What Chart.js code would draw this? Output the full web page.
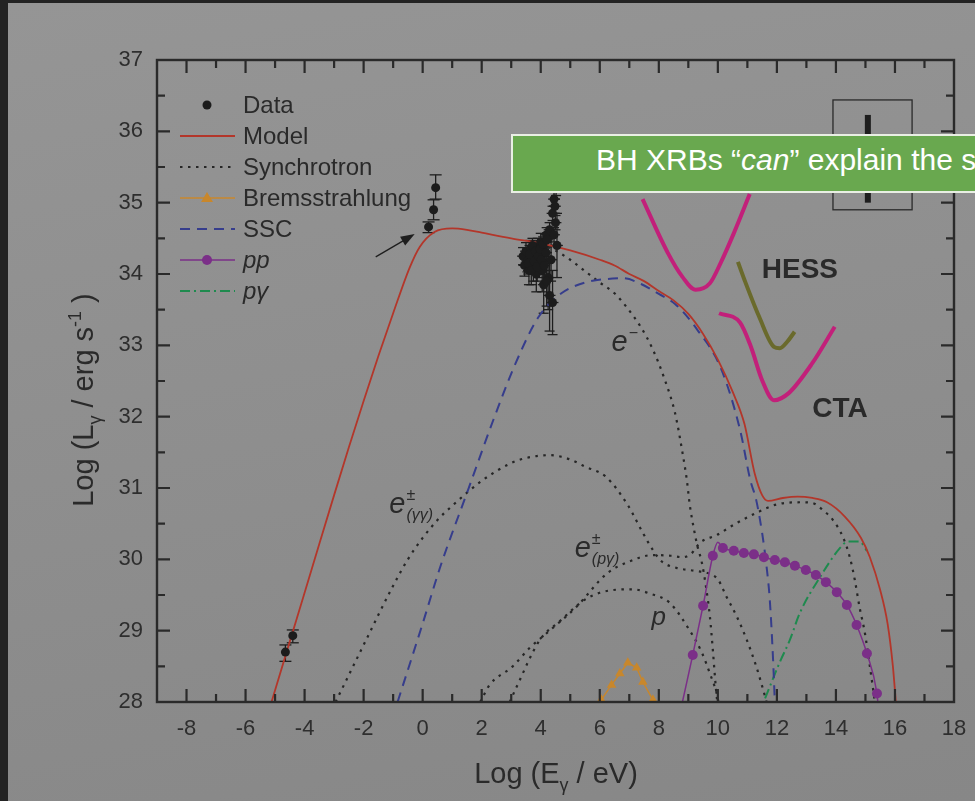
<!DOCTYPE html>
<html>
<head>
<meta charset="utf-8">
<script src="https://cdn.jsdelivr.net/npm/chart.js@4.4.1/dist/chart.umd.min.js"></script>
<style>
html,body{margin:0;padding:0;width:975px;height:801px;overflow:hidden;background:#232323;}
#paper{position:absolute;left:8px;top:3px;width:967px;height:798px;background:linear-gradient(170deg,#959595,#878787);}
#c{position:absolute;left:0;top:0;}
#banner{position:absolute;left:511px;top:134px;width:620px;height:59px;box-sizing:border-box;
  background:#69a84f;border:2px solid #e9efe4;border-right:none;color:#fff;
  font:30px "Liberation Sans",Arial,sans-serif;line-height:47px;padding-left:83px;white-space:nowrap;}
</style>
</head>
<body>
<div id="paper"></div>
<canvas id="c" width="975" height="801"></canvas>
<div id="banner">BH XRBs “<i>can</i>” explain the spectrum</div>
<script>
// values: x = log(E / eV), y = log(L / erg s^-1)
var xTickValues = [-8,-6,-4,-2,0,2,4,6,8,10,12,14,16,18];
var yTickValues = [28,29,30,31,32,33,34,35,36,37];

var dataX  = [-4.65,-4.4,0.2,0.37,0.44];
var dataY  = [28.7,28.93,34.66,34.9,35.21];
var dataLo = [28.57,28.83,34.58,34.76,35.05];
var dataHi = [28.8,29.01,34.73,35.04,35.39];

var xrayX   = [3.40,3.45,3.50,3.55,3.60,3.65,3.70,3.75,3.80,3.85,3.90,3.95,4.00,4.05,4.10,4.15,4.20,4.25,4.30,4.35,4.40,4.45,4.50,4.52,4.55,4.30,4.40,4.20,
               3.58,3.62,3.68,3.72,3.78,3.82,3.88,3.92,3.98,4.02,4.08,4.12,4.18,4.22,4.45,4.48];
var xrayY   = [34.25,34.12,34.32,34.18,34.05,34.35,34.22,34.10,34.28,34.00,34.38,34.15,34.45,34.05,33.85,34.30,34.55,33.95,34.62,34.20,34.85,35.05,34.72,35.20,34.40,33.70,33.60,33.90,
               34.15,34.28,34.05,34.40,34.18,34.32,34.10,34.25,34.35,34.20,34.42,34.12,34.30,34.48,34.55,34.95];
var xrayErr = [0.12,0.15,0.12,0.15,0.2,0.12,0.15,0.2,0.15,0.25,0.12,0.2,0.12,0.3,0.4,0.15,0.1,0.45,0.1,0.3,0.1,0.1,0.1,0.1,0.45,0.5,0.45,0.35,
               0.15,0.12,0.2,0.1,0.15,0.12,0.2,0.15,0.12,0.2,0.1,0.25,0.15,0.1,0.1,0.1];
var xrayXErr = 0.2;

var modelX = [-5.12,-4.5,-4,-3.5,-3,-2.5,-2,-1.5,-1,-0.44,-0.1,0.4,1,1.5,2,3,4,5,6,6.5,7,7.5,8,8.5,9,9.5,10,10.5,10.9,11.25,11.5,11.7,12.2,12.7,13.2,13.7,14.3,14.85,15.15,15.5,15.75,15.93,16.03];
var modelY = [28,28.85,29.53,30.22,30.9,31.57,32.22,32.85,33.45,34.09,34.38,34.59,34.64,34.62,34.58,34.5,34.43,34.33,34.2,34.12,34.0,33.9,33.76,33.63,33.44,33.16,32.8,32.35,31.9,31.2,30.9,30.82,30.86,30.88,30.86,30.8,30.6,30.3,30.03,29.57,29.1,28.5,28.0];

var synElX = [4.0,4.45,5.0,5.5,6.0,6.5,6.9,7.4,7.8,8.2,8.55,8.8,8.95,9.05,9.2,9.3,9.46,9.6,9.73,9.83,9.93,9.98];
var synElY = [34.42,34.34,34.2,34.04,33.88,33.73,33.54,33.25,32.94,32.52,32.05,31.5,31.11,30.76,30.4,30.2,29.95,29.61,29.2,28.73,28.21,28.0];
var synGGX = [-2.95,-2,-1,-0.5,0,0.5,1,2,3,3.5,4.3,5,5.5,6.2,6.95,7.46,7.8,8.1,8.6,9.2,9.7,10.0,10.3,10.64,10.98,11.3,11.55,11.65];
var synGGY = [28,28.8,29.63,30.0,30.3,30.55,30.75,31.1,31.35,31.42,31.46,31.4,31.3,31.16,30.76,30.37,30.13,29.97,29.88,29.84,29.8,29.72,29.47,29.2,28.87,28.5,28.15,28.0];
var synPGX = [1.95,2.27,3.05,3.63,4.3,5.2,6.24,7.0,7.8,8.4,8.8,9.1,9.39,9.96,10.6,11.3,12.0,12.78,13.2,13.56,13.9,14.24,14.47,14.64,14.8,14.98,15.15,15.32];
var synPGY = [28.0,28.24,28.5,28.76,29.0,29.33,29.8,29.97,30.06,30.05,30.03,30.08,30.23,30.34,30.5,30.65,30.77,30.8,30.79,30.69,30.55,30.31,30.03,29.71,29.33,28.97,28.5,28.0];
var synPX  = [2.95,3.18,3.97,4.64,5.55,6.45,7.1,7.7,8.37,9.05,9.45,9.73,9.96,10.02];
var synPY  = [28.0,28.21,28.87,29.13,29.45,29.57,29.58,29.52,29.39,29.0,28.7,28.4,28.12,28.0];

var sscX = [-0.85,0.0,0.6,1.5,2.4,3.15,3.93,4.7,5.5,6.24,6.8,7.4,8.0,8.55,9.3,10.1,10.75,11.1,11.3,11.5,11.65,11.76,11.87,11.93];
var sscY = [28,29.1,29.9,30.93,31.96,32.75,33.4,33.73,33.88,33.93,33.94,33.86,33.72,33.58,33.22,32.68,31.82,31.11,30.83,30.37,29.9,29.43,28.6,28.0];

var ppX = [8.8,9.15,9.5,9.83,10.0,10.17,10.54,10.88,11.22,11.56,11.93,12.27,12.61,12.98,13.32,13.66,14.03,14.37,14.7,15.05,15.39,15.42];
var ppY = [28.0,28.66,29.35,30.05,30.24,30.16,30.12,30.09,30.07,30.03,29.99,29.96,29.91,29.85,29.78,29.68,29.54,29.36,29.08,28.68,28.12,28.0];
var ppMarked = [0,1,1,1,0,1,1,1,1,1,1,1,1,1,1,1,1,1,1,1,1,0];

var bremX = [6.05,6.4,6.68,6.95,7.25,7.46,7.8];
var bremY = [28.03,28.24,28.4,28.55,28.48,28.28,28.03];

var pgX = [11.6,12.1,12.44,12.78,13.46,14.14,14.4,14.8,15.05];
var pgY = [28.05,28.56,28.87,29.25,29.75,30.16,30.25,30.25,30.12];

var hessX = [7.45,8.3,8.8,9.25,9.73,10.1,10.55,11.08];
var hessY = [35.05,34.3,33.96,33.78,33.87,34.16,34.58,35.12];
var hess2X = [10.68,10.9,11.4,11.9,12.1,12.35,12.6];
var hess2Y = [34.17,33.92,33.4,32.98,32.96,33.05,33.19];
var ctaX = [10.04,10.75,11.12,11.5,11.9,12.4,13.2,13.96];
var ctaY = [33.45,33.32,32.98,32.51,32.23,32.33,32.75,33.26];

var RED = '#b3362a', INK = '#262626', BLUE = '#363d8c', GREEN = '#1e8a4e',
    PURPLE = '#7b2f88', ORANGE = '#c8872c', MAGENTA = '#c2207a', OLIVE = '#6a6a2c';
var FONT = '"Liberation Sans", Arial, sans-serif';

function pts(xs, ys) { return xs.map(function (x, i) { return { x: x, y: ys[i] }; }); }

function curve(label, xs, ys, color, width, dash) {
  return { label: label, data: pts(xs, ys), showLine: true, borderColor: color, borderWidth: width,
    borderDash: dash || [], pointRadius: 0, cubicInterpolationMode: 'monotone' };
}

// draws a run of text pieces; sub/sup pieces are smaller and shifted
function rich(ctx, parts, x, y, size, align, italic) {
  function fnt(p) {
    var s = (p.sub || p.sup) ? size * 0.62 : size;
    return ((italic || p.it) ? 'italic ' : '') + s + 'px ' + FONT;
  }
  var w = 0;
  parts.forEach(function (p) { ctx.font = fnt(p); w += ctx.measureText(p.t).width; });
  var cx = align === 'center' ? x - w / 2 : x;
  parts.forEach(function (p) {
    ctx.font = fnt(p);
    var dy = p.sub ? size * 0.28 : (p.sup ? -size * 0.42 : 0);
    ctx.fillText(p.t, cx, y + dy);
    cx += ctx.measureText(p.t).width;
  });
}

var curveLabels = [
  { x: 6.4,  y: 32.92, e: true, sup: '\u2212', sub: '' },
  { x: -1.13, y: 30.65, e: true, sup: '\u00b1', sub: '(\u03b3\u03b3)' },
  { x: 5.15, y: 30.03, e: true, sup: '\u00b1', sub: '(p\u03b3)' },
  { x: 7.75, y: 29.08, e: false, text: 'p' }
];

var deco = {
  id: 'deco',
  beforeDatasetsDraw: function (chart) {
    var ctx = chart.ctx, sx = chart.scales.x, sy = chart.scales.y;
    ctx.save();
    ctx.strokeStyle = '#1e1e1e';
    ctx.lineWidth = 1.3;
    function seg(x1, y1, x2, y2) { ctx.beginPath(); ctx.moveTo(x1, y1); ctx.lineTo(x2, y2); ctx.stroke(); }
    dataX.forEach(function (v, i) {
      var px = sx.getPixelForValue(v), lo = sy.getPixelForValue(dataLo[i]), hi = sy.getPixelForValue(dataHi[i]);
      seg(px, lo, px, hi); seg(px - 6, lo, px + 6, lo); seg(px - 6, hi, px + 6, hi);
    });
    xrayX.forEach(function (v, i) {
      var px = sx.getPixelForValue(v), py = sy.getPixelForValue(xrayY[i]);
      var lo = sy.getPixelForValue(xrayY[i] - xrayErr[i]), hi = sy.getPixelForValue(xrayY[i] + xrayErr[i]);
      seg(px, lo, px, hi); seg(px - 5, lo, px + 5, lo); seg(px - 5, hi, px + 5, hi);
      seg(sx.getPixelForValue(v - xrayXErr), py, sx.getPixelForValue(v + xrayXErr), py);
    });
    ctx.restore();
  },
  afterDraw: function (chart) {
    var ctx = chart.ctx, a = chart.chartArea, sx = chart.scales.x, sy = chart.scales.y;
    ctx.save();
    // frame + inward ticks on all four sides
    ctx.strokeStyle = '#2a2a2a';
    ctx.lineWidth = 2.4;
    ctx.strokeRect(a.left, a.top, a.right - a.left, a.bottom - a.top);
    ctx.lineWidth = 2.2;
    ctx.beginPath();
    for (var v = -8; v < 18; v++) {
      var px = sx.getPixelForValue(v), len = (v % 2 === 0) ? 13 : 8;
      ctx.moveTo(px, a.bottom); ctx.lineTo(px, a.bottom - len);
      ctx.moveTo(px, a.top); ctx.lineTo(px, a.top + len);
    }
    for (var w = 28.5; w < 37; w += 0.5) {
      var py = sy.getPixelForValue(w), l2 = (w % 1 === 0) ? 13 : 8;
      ctx.moveTo(a.left, py); ctx.lineTo(a.left + l2, py);
      ctx.moveTo(a.right, py); ctx.lineTo(a.right - l2, py);
    }
    ctx.stroke();

    // inset box (top right)
    ctx.lineWidth = 1.3;
    ctx.strokeRect(sx.getPixelForValue(13.9), sy.getPixelForValue(36.44),
      sx.getPixelForValue(16.58) - sx.getPixelForValue(13.9), sy.getPixelForValue(34.9) - sy.getPixelForValue(36.44));
    ctx.fillStyle = '#1e1e1e';
    ctx.fillRect(sx.getPixelForValue(14.98), sy.getPixelForValue(36.23), 6, sy.getPixelForValue(35.0) - sy.getPixelForValue(36.23));

    // arrow to the radio point
    var x1 = sx.getPixelForValue(-1.59), y1 = sy.getPixelForValue(34.24);
    var x2 = sx.getPixelForValue(-0.27), y2 = sy.getPixelForValue(34.56);
    var ang = Math.atan2(y2 - y1, x2 - x1);
    ctx.strokeStyle = '#1e1e1e'; ctx.lineWidth = 1.3;
    ctx.beginPath(); ctx.moveTo(x1, y1); ctx.lineTo(x2 - 10 * Math.cos(ang), y2 - 10 * Math.sin(ang)); ctx.stroke();
    ctx.beginPath();
    ctx.moveTo(x2, y2);
    ctx.lineTo(x2 - 14 * Math.cos(ang) + 5 * Math.sin(ang), y2 - 14 * Math.sin(ang) - 5 * Math.cos(ang));
    ctx.lineTo(x2 - 14 * Math.cos(ang) - 5 * Math.sin(ang), y2 - 14 * Math.sin(ang) + 5 * Math.cos(ang));
    ctx.closePath(); ctx.fill();

    // curve labels
    ctx.fillStyle = '#2a2a2a';
    ctx.textBaseline = 'alphabetic';
    ctx.textAlign = 'left';
    curveLabels.forEach(function (L) {
      var px = sx.getPixelForValue(L.x), py = sy.getPixelForValue(L.y);
      if (!L.e) { ctx.font = 'italic 26px ' + FONT; ctx.fillText(L.text, px, py); return; }
      ctx.font = 'italic 29px ' + FONT;
      ctx.fillText('e', px, py);
      var ew = ctx.measureText('e').width;
      ctx.font = '16px ' + FONT;
      ctx.fillText(L.sup, px + ew + 1, py - 13);
      ctx.font = 'italic 16px ' + FONT;
      if (L.sub) ctx.fillText(L.sub, px + ew + 1, py + 7);
    });
    ctx.font = 'bold 28px ' + FONT;
    ctx.textAlign = 'center';
    ctx.fillText('HESS', sx.getPixelForValue(12.78), sy.getPixelForValue(33.94));
    ctx.fillText('CTA', sx.getPixelForValue(14.14), sy.getPixelForValue(32.0));

    // legend
    var rows = [105, 136, 167, 198, 229, 260, 291];
    var lx1 = 180, lx2 = 235, tx = 243;
    function sample(i, color, width, dash) {
      ctx.strokeStyle = color; ctx.lineWidth = width; ctx.setLineDash(dash);
      ctx.beginPath(); ctx.moveTo(lx1, rows[i]); ctx.lineTo(lx2, rows[i]); ctx.stroke(); ctx.setLineDash([]);
    }
    ctx.fillStyle = '#1c1c1c';
    ctx.beginPath(); ctx.arc(207, rows[0], 4.5, 0, Math.PI * 2); ctx.fill();
    sample(1, RED, 1.8, []);
    sample(2, INK, 2.2, [2.5, 5.5]);
    sample(3, ORANGE, 1.6, []);
    ctx.fillStyle = ORANGE;
    ctx.beginPath(); ctx.moveTo(207, rows[3] - 6); ctx.lineTo(213, rows[3] + 4); ctx.lineTo(201, rows[3] + 4); ctx.closePath(); ctx.fill();
    sample(4, BLUE, 2, [10, 7]);
    sample(5, PURPLE, 1.6, []);
    ctx.fillStyle = PURPLE;
    ctx.beginPath(); ctx.arc(207, rows[5], 5, 0, Math.PI * 2); ctx.fill();
    sample(6, GREEN, 2, [10, 4, 2, 4]);
    ctx.fillStyle = '#2a2a2a';
    ctx.textAlign = 'left';
    ctx.textBaseline = 'middle';
    ['Data', 'Model', 'Synchrotron', 'Bremsstrahlung', 'SSC'].forEach(function (t, i) {
      ctx.font = '24px ' + FONT; ctx.fillText(t, tx, rows[i] + 1);
    });
    ctx.font = 'italic 24px ' + FONT;
    ctx.fillText('pp', tx, rows[5] + 1);
    ctx.fillText('p\u03b3', tx, rows[6] + 1);

    // axis titles
    ctx.textBaseline = 'alphabetic';
    rich(ctx, [{ t: 'Log (E' }, { t: '\u03b3', sub: 1 }, { t: ' / eV)' }], 556, 783, 29, 'center');
    ctx.translate(93, 400);
    ctx.rotate(-Math.PI / 2);
    rich(ctx, [{ t: 'Log (L' }, { t: '\u03b3', sub: 1 }, { t: ' / erg s' }, { t: '-1', sup: 1 }, { t: ' )' }], 0, 0, 29, 'center');
    ctx.restore();
  }
};

var tickFont = { family: FONT, size: 22 };

new Chart(document.getElementById('c'), {
  type: 'scatter',
  data: {
    datasets: [
      { label: 'Data', data: pts(dataX.concat(xrayX), dataY.concat(xrayY)), pointRadius: 4.5,
        pointBackgroundColor: '#1c1c1c', pointBorderWidth: 0 },
      curve('HESS', hessX, hessY, MAGENTA, 4),
      curve('HESS II', hess2X, hess2Y, OLIVE, 4),
      curve('CTA', ctaX, ctaY, MAGENTA, 4),
      { label: 'pp', data: pts(ppX, ppY), showLine: true, borderColor: PURPLE, borderWidth: 1.5,
        pointRadius: ppMarked.map(function (m) { return m ? 5 : 0; }),
        pointBackgroundColor: PURPLE, pointBorderWidth: 0, cubicInterpolationMode: 'monotone' },
      { label: 'Bremsstrahlung', data: pts(bremX, bremY), showLine: true, borderColor: ORANGE, borderWidth: 1.5,
        pointStyle: 'triangle', pointRadius: 5.5, pointBackgroundColor: ORANGE, pointBorderWidth: 0 },
      curve('Model', modelX, modelY, RED, 1.8),
      curve('SSC', sscX, sscY, BLUE, 2, [10, 7]),
      curve('p\u03b3', pgX, pgY, GREEN, 2, [10, 4, 2, 4]),
      curve('Synchrotron e-', synElX, synElY, INK, 2.2, [2.5, 5.5]),
      curve('Synchrotron e\u00b1 (\u03b3\u03b3)', synGGX, synGGY, INK, 2.2, [2.5, 5.5]),
      curve('Synchrotron e\u00b1 (p\u03b3)', synPGX, synPGY, INK, 2.2, [2.5, 5.5]),
      curve('Synchrotron p', synPX, synPY, INK, 2.2, [2.5, 5.5])
    ]
  },
  options: {
    responsive: false,
    animation: false,
    devicePixelRatio: 1,
    layout: { padding: { top: 60, right: 21, left: 0, bottom: 0 } },
    plugins: { legend: { display: false }, tooltip: { enabled: false } },
    scales: {
      x: {
        type: 'linear', min: -9, max: 18,
        grid: { display: false, drawTicks: false }, border: { display: false },
        ticks: { stepSize: 1, autoSkip: false, maxRotation: 0, padding: 14, color: '#2e2e2e', font: tickFont,
          callback: function (v) { return xTickValues.indexOf(v) >= 0 ? String(v) : ''; } },
        afterFit: function (s) { s.height = 99; s.paddingRight = 0; s.paddingLeft = 0; }
      },
      y: {
        min: 28, max: 37,
        grid: { display: false, drawTicks: false }, border: { display: false },
        ticks: { stepSize: 1, padding: 14, color: '#2e2e2e', font: tickFont,
          callback: function (v) { return yTickValues.indexOf(v) >= 0 ? String(v) : ''; } },
        afterFit: function (s) { s.width = 157; }
      }
    }
  },
  plugins: [deco]
});
</script>
</body>
</html>
